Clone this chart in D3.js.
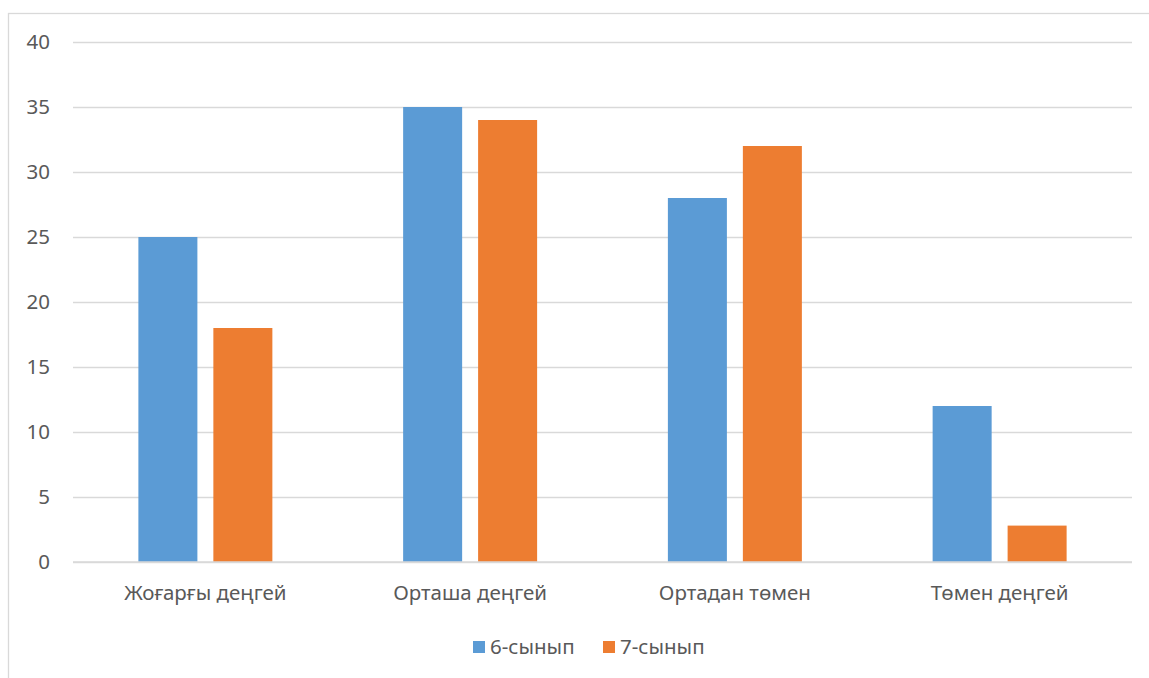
<!DOCTYPE html>
<html><head><meta charset="utf-8">
<script src="https://cdnjs.cloudflare.com/ajax/libs/d3/7.8.5/d3.min.js"></script>
<style>body{margin:0;background:#fff}svg{display:block}</style>
</head><body><svg id="c" width="1149" height="678"></svg>
<script>
const categories = ["Жоғарғы деңгей", "Орташа деңгей", "Ортадан төмен", "Төмен деңгей"];
const seriesNames = ["6-сынып", "7-сынып"];
const grade6 = [25, 35, 28, 12];
const grade7 = [18, 34, 32, 2.8];
const yTicks = [0, 5, 10, 15, 20, 25, 30, 35, 40];
const colors = ["#5b9bd5", "#ed7d31"];

const svg = d3.select("#c");
const font = "'Noto Sans', 'Open Sans', sans-serif";
const fs = "20.5px";
svg.append("rect").attr("x", 8.5).attr("y", 13.5).attr("width", 1160).attr("height", 700)
  .attr("fill", "#fff").attr("stroke", "#d9d9d9").attr("stroke-width", 1.3);

const L = 73, R = 1132, T = 42, B = 562;
const y = d3.scaleLinear().domain([0, 40]).range([B, T]);
const x0 = d3.scaleBand().domain(categories).range([L, R]).padding(0);
const x1 = d3.scaleBand().domain(seriesNames).range([0, x0.bandwidth()]).paddingInner(0.213).paddingOuter(0.872);

const yAxis = d3.axisLeft(y).tickValues(yTicks).tickSize(-(R - L)).tickPadding(23);
const ga = svg.append("g").attr("transform", `translate(${L},0)`).call(yAxis);
ga.select(".domain").remove();
ga.selectAll(".tick line").attr("stroke", "#d9d9d9").attr("stroke-width", 1.3);
ga.selectAll(".tick text").attr("fill", "#595959").style("font-family", font).style("font-size", fs);

const data = categories.map((c, i) => ({c, vals: [grade6[i], grade7[i]]}));
const g = svg.append("g");
data.forEach(d => {
  d.vals.forEach((v, j) => {
    g.append("rect")
      .attr("x", x0(d.c) + x1(seriesNames[j]))
      .attr("width", x1.bandwidth())
      .attr("y", y(v))
      .attr("height", y(0) - y(v))
      .attr("fill", colors[j]);
  });
});
svg.append("line").attr("x1", L).attr("x2", R).attr("y1", y(0)).attr("y2", y(0)).attr("stroke", "#d9d9d9").attr("stroke-width", 1.3);

const xAxis = d3.axisBottom(x0).tickSize(0).tickPadding(23);
const gx = svg.append("g").attr("transform", `translate(0,${B})`).call(xAxis);
gx.select(".domain").remove();
gx.selectAll(".tick text").attr("fill", "#595959").style("font-family", font).style("font-size", fs);

const leg = svg.append("g");
const legX = [473, 603];
seriesNames.forEach((s, j) => {
  leg.append("rect").attr("x", legX[j]).attr("y", 641).attr("width", 12).attr("height", 12).attr("fill", colors[j]);
  leg.append("text").attr("x", legX[j] + 17).attr("y", 654).text(s)
    .attr("fill", "#595959").style("font-family", font).style("font-size", fs);
});
</script></body></html>
